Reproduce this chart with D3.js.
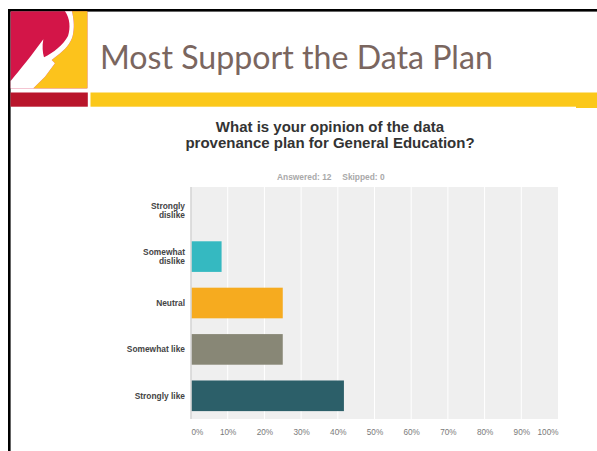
<!DOCTYPE html>
<html>
<head>
<meta charset="utf-8">
<script src="https://cdn.jsdelivr.net/npm/d3@7"></script>
<style>
  html, body { margin: 0; padding: 0; background: #ffffff; }
  svg { display: block; }
</style>
</head>
<body>
<svg id="slide" width="597" height="451"></svg>
<script>
// Survey question and its answer options
const slideTitle = "Most Support the Data Plan";
const questionLines = ["What is your opinion of the data", "provenance plan for General Education?"];
const categories = ["Strongly dislike", "Somewhat dislike", "Neutral", "Somewhat like", "Strongly like"];
const categoryLines = [["Strongly", "dislike"], ["Somewhat", "dislike"], ["Neutral"], ["Somewhat like"], ["Strongly like"]];
// Number of respondents picking each option
const responses = [0, 1, 3, 3, 5];
const answered = 12;
const skipped = 0;
const tickValues = [0, 0.1, 0.2, 0.3, 0.4, 0.5, 0.6, 0.7, 0.8, 0.9, 1];
const barColors = ["#6aa8b8", "#35b9c1", "#f6ab1f", "#888776", "#2c5f69"];

const svg = d3.select("#slide");

// ---- slide frame ----
svg.append("rect").attr("x", 8).attr("y", 9).attr("width", 589).attr("height", 2.6).attr("fill", "#000");
svg.append("rect").attr("x", 8).attr("y", 9).attr("width", 2.6).attr("height", 442).attr("fill", "#000");

// ---- logo: red block, yellow field and a white flame ----
const logo = svg.append("g");
const emblem = logo.append("g").attr("transform", "translate(10,10) scale(0.3333)");
emblem.append("rect").attr("x", 2).attr("y", 4).attr("width", 230).attr("height", 231).attr("fill", "#d31548");
emblem.append("path")
  .attr("fill", "#fcc31c")
  .attr("d", "M186,4 L232,4 L232,235 L70,235 L105,200 L135,160 L125,150 L140,138 C165,120 182,100 188,78 C194,55 192,30 186,4 Z");
emblem.append("path")
  .attr("fill", "#ffffff")
  .attr("d", "M165,4 L186,4 C192,30 194,55 188,78 C182,100 165,120 140,138 L125,150 L135,160 L105,200 L70,235 L2,235 L2,213 C30,180 70,130 100,88 C96,108 98,128 102,142 C130,128 160,105 174,78 C182,55 180,25 165,4 Z");
logo.append("rect").attr("x", 10.5).attr("y", 92.5).attr("width", 77.3).attr("height", 14.2).attr("fill", "#b9152b");

// ---- header bar ----
svg.append("rect").attr("x", 90.5).attr("y", 92.5).attr("width", 507).attr("height", 14.2).attr("fill", "#fbc81a");
svg.append("rect").attr("x", 576).attr("y", 100).attr("width", 21).attr("height", 8).attr("fill", "#fbc81a");

// ---- slide title ----
const titleText = svg.append("text")
  .attr("x", 100).attr("y", 69)
  .attr("font-family", "Lato, 'Open Sans', sans-serif")
  .attr("font-weight", 400)
  .attr("font-size", 30)
  .attr("fill", "#7a665f")
  .text(slideTitle);
const wantW = 393;
const gotW = titleText.node().getComputedTextLength();
titleText.attr("font-size", 30 * wantW / gotW);

// ---- question heading ----
const cx = 330;
svg.append("g").selectAll("text")
  .data(questionLines)
  .join("text")
  .attr("x", cx)
  .attr("y", (d, i) => 132.3 + i * 15.6)
  .attr("text-anchor", "middle")
  .attr("font-family", "'Liberation Sans', Arial, sans-serif")
  .attr("font-weight", "bold")
  .attr("font-size", 15)
  .attr("fill", "#333333")
  .text(d => d);

const stats = svg.append("g")
  .attr("font-family", "'Liberation Sans', Arial, sans-serif")
  .attr("font-weight", "bold")
  .attr("font-size", 8.4)
  .attr("fill", "#a9a9a9");
stats.append("text").attr("x", 331.5).attr("y", 180).attr("text-anchor", "end").text(`Answered: ${answered}`);
stats.append("text").attr("x", 342.3).attr("y", 180).attr("text-anchor", "start").text(`Skipped: ${skipped}`);

// ---- bar chart ----
const plot = { left: 191, right: 558, top: 187, bottom: 419 };
const total = d3.sum(responses);
const shares = responses.map(v => v / total);

const x = d3.scaleLinear().domain([0, 1]).range([plot.left, plot.right]);
const y = d3.scaleBand().domain(categories).range([plot.top, plot.bottom])
  .paddingInner(0.34).paddingOuter(0.17);

svg.append("rect")
  .attr("x", x(0)).attr("y", plot.top)
  .attr("width", x(1) - x(0)).attr("height", plot.bottom - plot.top)
  .attr("fill", "#efefef");

// vertical gridlines
svg.append("g").selectAll("line")
  .data(tickValues.slice(1, -1))
  .join("line")
  .attr("x1", d => x(d)).attr("x2", d => x(d))
  .attr("y1", plot.top).attr("y2", plot.bottom)
  .attr("stroke", "#ffffff").attr("stroke-width", 1);

// bars
svg.append("g").selectAll("rect")
  .data(categories.map((c, i) => ({ c, v: shares[i], color: barColors[i] })))
  .join("rect")
  .attr("x", x(0))
  .attr("y", d => y(d.c))
  .attr("width", d => x(d.v) - x(0))
  .attr("height", y.bandwidth())
  .attr("fill", d => d.color);

// left axis line
svg.append("line")
  .attr("x1", x(0)).attr("x2", x(0))
  .attr("y1", plot.top).attr("y2", plot.bottom)
  .attr("stroke", "#d6d6d6").attr("stroke-width", 1.6);

// category labels
const catG = svg.append("g")
  .attr("font-family", "'Liberation Sans', Arial, sans-serif")
  .attr("font-weight", "bold")
  .attr("font-size", 8.4)
  .attr("fill", "#444444")
  .attr("text-anchor", "end");
categories.forEach((c, i) => {
  const lines = categoryLines[i];
  const mid = y(c) + y.bandwidth() / 2;
  const t = catG.append("text").attr("x", 185).attr("y", mid - (lines.length - 1) * 4.5 + 3);
  lines.forEach((ln, j) => {
    t.append("tspan").attr("x", 185).attr("dy", j === 0 ? 0 : 9).text(ln);
  });
});

// x axis tick labels
const fmt = d3.format(".0%");
const xAxis = d3.axisBottom(x).tickValues(tickValues).tickFormat(fmt).tickSize(0).tickPadding(0);
const axG = svg.append("g").attr("transform", `translate(0,${plot.bottom + 10})`).call(xAxis);
axG.select(".domain").remove();
axG.selectAll("text")
  .attr("font-family", "'Liberation Sans', Arial, sans-serif")
  .attr("font-size", 8.2)
  .attr("fill", "#7a7a7a")
  .attr("dy", "0.71em")
  .attr("text-anchor", d => d === 0 ? "start" : (d === 1 ? "end" : "middle"));
</script>
</body>
</html>
